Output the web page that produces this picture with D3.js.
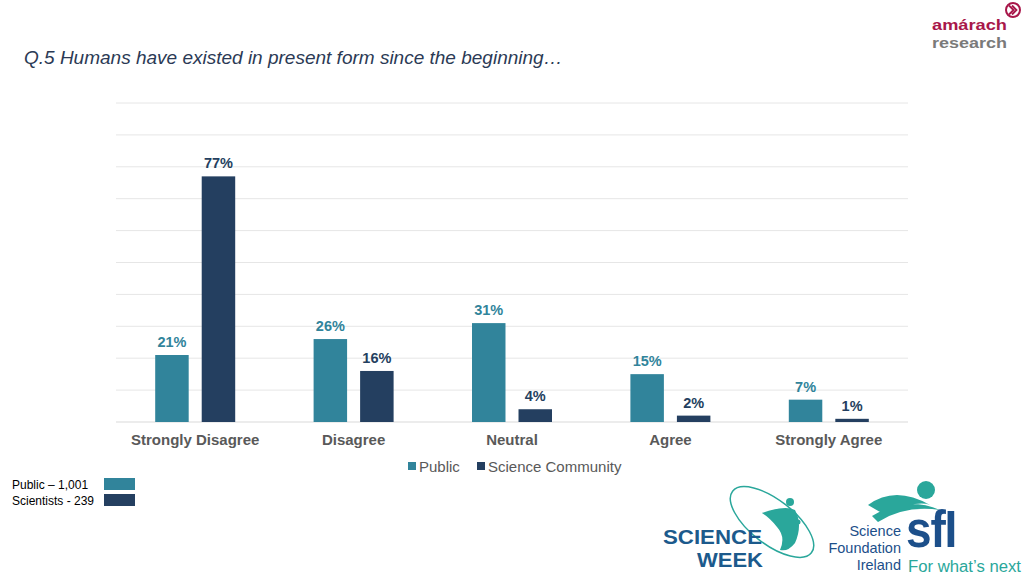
<!DOCTYPE html>
<html><head><meta charset="utf-8">
<script src="https://cdn.jsdelivr.net/npm/d3@7"></script>
<style>body{margin:0;background:#fff}svg{display:block}</style>
</head><body>
<svg id="c" width="1024" height="576"></svg>
<script>
const categories = ["Strongly Disagree","Disagree","Neutral","Agree","Strongly Agree"];
const seriesNames = ["Public","Science Community"];
const publicValues = [21,26,31,15,7];
const scienceValues = [77,16,4,2,1];
const yTicks = [0,10,20,30,40,50,60,70,80,90,100];
const sampleLabels = ["Public \u2013 1,001","Scientists - 239"];
const colors = ["#31849B","#243F60"];

const svg = d3.select("#c");
const F = "Liberation Sans, Arial, sans-serif";
const x0 = d3.scaleBand().domain(categories).range([116,908]);
const x1 = d3.scaleBand().domain(seriesNames).range([-40,40]).paddingInner(0.28);
const y = d3.scaleLinear().domain([0,100]).range([422,103]);

// gridlines
svg.append("g").selectAll("line").data(yTicks).join("line")
  .attr("x1",116).attr("x2",908).attr("y1",d=>y(d)).attr("y2",d=>y(d))
  .attr("stroke",d=>d===0?"#d9d9d9":"#e6e6e6").attr("stroke-width",1);

// title
svg.append("text").attr("x",24).attr("y",64).attr("font-family",F).attr("font-size",19)
  .attr("font-style","italic").attr("fill","#2b3a55").text("Q.5 Humans have existed in present form since the beginning\u2026");

const data = categories.map((c,i)=>({c, vals:[publicValues[i],scienceValues[i]]}));
const g = svg.append("g").selectAll("g").data(data).join("g")
  .attr("transform",d=>`translate(${x0(d.c)+x0.bandwidth()/2},0)`);
g.selectAll("rect").data(d=>d.vals.map((v,j)=>({v,j}))).join("rect")
  .attr("x",d=>x1(seriesNames[d.j])).attr("width",x1.bandwidth())
  .attr("y",d=>y(d.v)).attr("height",d=>y(0)-y(d.v)).attr("fill",d=>colors[d.j]);
g.selectAll("text.v").data(d=>d.vals.map((v,j)=>({v,j}))).join("text").attr("class","v")
  .attr("x",d=>x1(seriesNames[d.j])+x1.bandwidth()/2).attr("y",d=>y(d.v)-8)
  .attr("text-anchor","middle").attr("font-family",F).attr("font-size",14.5).attr("font-weight","bold")
  .attr("fill",d=>colors[d.j]).text(d=>d.v+"%");

// x axis labels
const xa = svg.append("g").attr("transform","translate(0,422)").call(d3.axisBottom(x0).tickSize(0).tickPadding(12));
xa.select(".domain").remove();
xa.selectAll("text").attr("font-family",F).attr("font-size",15).attr("font-weight","bold").attr("fill","#595959");

// legend
const lg = svg.append("g");
const lx = [408,477];
seriesNames.forEach((n,i)=>{
  lg.append("rect").attr("x",lx[i]).attr("y",462).attr("width",8).attr("height",8).attr("fill",colors[i]);
  lg.append("text").attr("x",lx[i]+11).attr("y",471.5).attr("font-family",F).attr("font-size",15).attr("fill","#595959").text(n);
});

// sample sizes
sampleLabels.forEach((t,i)=>{
  svg.append("text").attr("x",12).attr("y",489+i*16).attr("font-family",F).attr("font-size",12).attr("fill","#000").text(t);
  svg.append("rect").attr("x",104).attr("y",478+i*16).attr("width",31).attr("height",12).attr("fill",colors[i]);
});

// amarach logo
svg.append("text").attr("x",932).attr("y",30).attr("font-family",F)
  .attr("font-size",15.5).attr("font-weight","bold").attr("fill","#A8174A").attr("textLength",75).attr("lengthAdjust","spacingAndGlyphs").text("am\u00e1rach");
svg.append("text").attr("x",932).attr("y",48).attr("font-family",F)
  .attr("font-size",15.5).attr("font-weight","bold").attr("fill","#7a7a7a").attr("textLength",75).attr("lengthAdjust","spacingAndGlyphs").text("research");
svg.append("circle").attr("cx",1013).attr("cy",10).attr("r",7).attr("fill","none").attr("stroke","#A8174A").attr("stroke-width",2);
svg.append("path").attr("d","M1009,5.5 L1013.5,10 L1009,14.5 M1012,5.5 L1016.5,10 L1012,14.5").attr("fill","none").attr("stroke","#A8174A").attr("stroke-width",1.8);

// Science Week logo
const sw = svg.append("g");
sw.append("ellipse").attr("cx",772).attr("cy",522).attr("rx",50).attr("ry",22).attr("transform","rotate(38,772,522)")
  .attr("fill","none").attr("stroke","#2aa79b").attr("stroke-width",1.5);
sw.append("path").attr("d","M762,513 Q785,505 795,510 Q803,525 795,543 Q788,552 780,550 Q786,537 777,527 Q770,518 762,513Z").attr("fill","#2aa79b");
sw.append("circle").attr("cx",790).attr("cy",502).attr("r",4).attr("fill","#2aa79b");
sw.append("circle").attr("cx",798).attr("cy",522).attr("r",2.5).attr("fill","#2aa79b");
sw.append("text").attr("x",663).attr("y",544).attr("font-family",F)
  .attr("font-size",17).attr("font-weight","bold").attr("fill","#1c5a8c").attr("textLength",99).attr("lengthAdjust","spacingAndGlyphs").attr("transform","translate(0,544) scale(1,1.15) translate(0,-544)").text("SCIENCE");
sw.append("text").attr("x",697).attr("y",567).attr("font-family",F)
  .attr("font-size",17).attr("font-weight","bold").attr("fill","#1c5a8c").attr("textLength",66).attr("lengthAdjust","spacingAndGlyphs").attr("transform","translate(0,567) scale(1,1.15) translate(0,-567)").text("WEEK");

// SFI logo
const sf = svg.append("g");
sf.append("circle").attr("cx",926).attr("cy",490).attr("r",9).attr("fill","#2aa79b");
sf.append("path").attr("d","M868,505 Q895,485 930,505 Q920,500 880,512 Z M872,516 Q905,495 940,510 Q905,505 878,522 Z").attr("fill","#2aa79b");
["Science","Foundation","Ireland"].forEach((t,i)=>{
  sf.append("text").attr("x",901).attr("y",536+i*17).attr("text-anchor","end").attr("font-family",F)
    .attr("font-size",14.5).attr("fill","#1c4f8a").text(t);
});
sf.append("text").attr("x",906).attr("y",547).attr("font-family",F).attr("font-size",40).attr("font-weight","bold")
  .attr("fill","#1c4f8a").attr("letter-spacing",-1).attr("transform","translate(906,547) scale(1.15,1.3) translate(-906,-547)").text("sfI");
sf.append("text").attr("x",908).attr("y",572).attr("font-family",F).attr("font-size",16).attr("fill","#2aa79b").attr("textLength",113).attr("lengthAdjust","spacingAndGlyphs").text("For what\u2019s next");
</script>
</body></html>
